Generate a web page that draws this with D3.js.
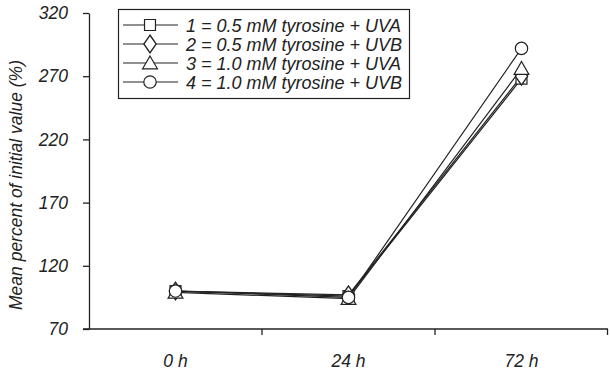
<!DOCTYPE html>
<html>
<head>
<meta charset="utf-8">
<script src="https://cdn.jsdelivr.net/npm/d3@7"></script>
<style>
  body { margin: 0; background: #fff; }
  text { font-family: "Liberation Sans", Arial, sans-serif; font-style: italic; fill: #222; }
</style>
</head>
<body>
<script>
// categories and series
const times = ["0 h", "24 h", "72 h"];
const seriesNames = [
    "1 = 0.5 mM tyrosine + UVA",
    "2 = 0.5 mM tyrosine + UVB",
    "3 = 1.0 mM tyrosine + UVA",
    "4 = 1.0 mM tyrosine + UVB"
];
const symbols = ["square", "diamond", "triangle", "circle"];
const s1 = [100, 96, 268];
const s2 = [100, 97, 270];
const s3 = [99, 94, 276];
const s4 = [100, 95, 292];
const yTicks = [70, 120, 170, 220, 270, 320];

const width = 610;
const height = 376;
const marginTop = 13;
const marginLeft = 89;
const marginRight = 2;
const marginBottom = 47;

const svg = d3.select("body")
    .append("svg")
    .attr("width", width)
    .attr("height", height);

const xScale = d3.scaleBand()
    .domain(times)
    .range([marginLeft, width - marginRight]);

const yScale = d3.scaleLinear()
    .domain([70, 320])
    .range([height - marginBottom, marginTop]);

// x axis
const xAxis = svg.append("g")
    .attr("transform", "translate(0," + (height - marginBottom) + ")")
    .call(d3.axisBottom(xScale).tickSize(0));
xAxis.select(".domain").remove();
xAxis.append("line")
    .attr("x1", marginLeft - 6).attr("x2", width - marginRight)
    .attr("stroke", "#222").attr("stroke-width", 1.3);
// tick marks between categories
times.forEach((t, i) => {
    if (i === 0) return;
    xAxis.append("line")
        .attr("x1", xScale(t)).attr("x2", xScale(t))
        .attr("y1", 0).attr("y2", 6)
        .attr("stroke", "#222").attr("stroke-width", 1.3);
});
xAxis.append("line")
    .attr("x1", xScale.range()[1] - 0.5).attr("x2", xScale.range()[1] - 0.5)
    .attr("y1", 0).attr("y2", 6)
    .attr("stroke", "#222").attr("stroke-width", 1.3);
xAxis.selectAll(".tick text")
    .attr("y", 38).attr("dy", 0)
    .style("font-size", "17.5px").attr("fill", "#222");

// y axis
const yAxis = svg.append("g")
    .attr("transform", "translate(" + marginLeft + ",0)")
    .call(d3.axisLeft(yScale).tickValues(yTicks).tickSize(6).tickPadding(15).tickSizeOuter(0));
yAxis.selectAll("line, path").attr("stroke", "#222").attr("stroke-width", 1.3);
yAxis.selectAll("text").style("font-size", "17.5px").attr("fill", "#222");

svg.append("text")
    .attr("transform", "translate(22,185) rotate(-90)")
    .attr("text-anchor", "middle")
    .style("font-size", "17.5px")
    .text("Mean percent of initial value (%)");

// 記号
const symbolType = {
    square: d3.symbolSquare,
    diamond: d3.symbolDiamond,
    triangle: d3.symbolTriangle,
    circle: d3.symbolCircle
};
const symbolSize = { square: 120, diamond: 90, triangle: 95, circle: 120 };

function marker(g, kind, x, y) {
    const dy = kind === "triangle" ? 1.5 : 0;
    g.append("path")
        .attr("d", d3.symbol().type(symbolType[kind]).size(symbolSize[kind])())
        .attr("transform", "translate(" + x + "," + (y + dy) + ")" + (kind === "diamond" ? " scale(1.2,1)" : ""))
        .attr("fill", "#fff")
        .attr("stroke", "#222")
        .attr("stroke-width", 1.2);
}

const allSeries = [s1, s2, s3, s4];
const line = d3.line()
    .x((d, i) => xScale(times[i]) + xScale.bandwidth() / 2)
    .y((d) => yScale(d));

allSeries.forEach((s) => {
    svg.append("path")
        .datum(s)
        .attr("d", line)
        .attr("fill", "none")
        .attr("stroke", "#222")
        .attr("stroke-width", 1.2);
});
allSeries.forEach((s, k) => {
    const g = svg.append("g");
    s.forEach((v, i) => {
        marker(g, symbols[k], xScale(times[i]) + xScale.bandwidth() / 2, yScale(v));
    });
});

// legend
const legend = svg.append("g");
legend.append("rect")
    .attr("x", 118.5).attr("y", 9.5)
    .attr("width", 291).attr("height", 89)
    .attr("fill", "#fff").attr("stroke", "#222").attr("stroke-width", 1.2);
seriesNames.forEach((name, i) => {
    const y = 25 + i * 19;
    legend.append("line")
        .attr("x1", 123).attr("x2", 178)
        .attr("y1", y).attr("y2", y)
        .attr("stroke", "#222").attr("stroke-width", 1.2);
    marker(legend, symbols[i], 150, y);
    legend.append("text")
        .attr("x", 186).attr("y", y + 6.5)
        .style("font-size", "18px")
        .text(name);
});
</script>
</body>
</html>
